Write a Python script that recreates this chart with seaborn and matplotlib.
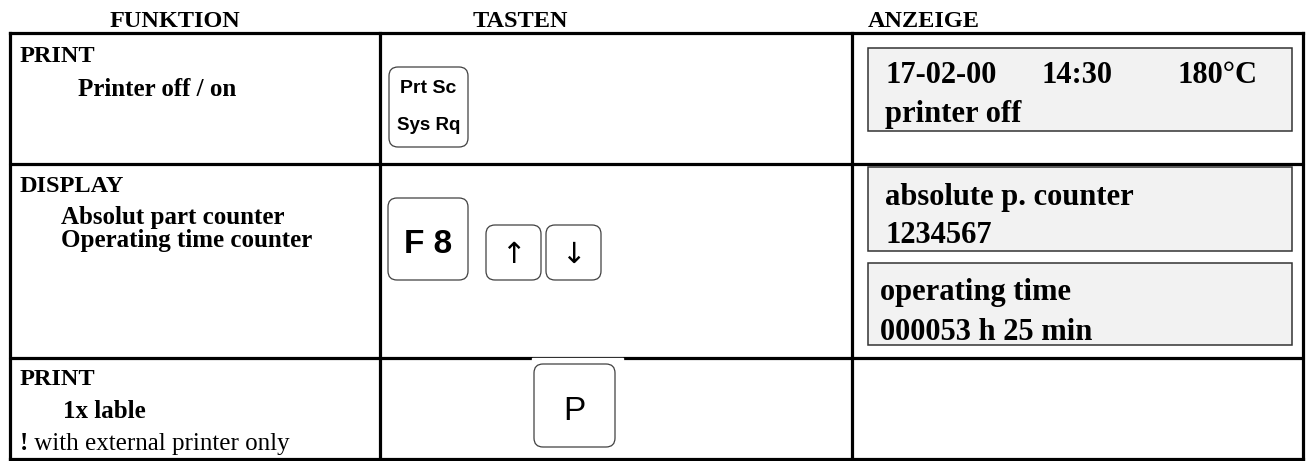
import matplotlib
matplotlib.use("Agg")
import matplotlib.pyplot as plt
import seaborn as sns
from matplotlib.patches import FancyBboxPatch, Rectangle

sns.set_theme(style="white")

# Inhalte der Tabelle
headers = ["FUNKTION", "TASTEN", "ANZEIGE"]
row_titles = ["PRINT", "DISPLAY", "PRINT"]
row_items = [["Printer off / on"],
             ["Absolut part counter", "Operating time counter"],
             ["1x lable"]]
note_mark = "!"
note_text = "with external printer only"
keys = [["Prt Sc", "Sys Rq"], ["F 8"], ["\u2191"], ["\u2193"], ["P"]]
displays = [["17-02-00", "printer off"],
            ["absolute p. counter", "1234567"],
            ["operating time", "000053 h 25 min"]]
display_extra = ["14:30", "180\u00b0C"]

# Geometrie in Pixeln
W, H = 1312, 461
col_x = [10, 380, 852, 1303]
row_y = [33, 164, 358, 459]
header_x = [175, 520, 868]
header_ha = ["center", "center", "left"]
title_y = [62, 192, 385]
item_x = [78, 61, 63]
item_y = [[96], [224, 247], [418]]
key_boxes = [(389, 67, 79, 80), (388, 198, 80, 82), (486, 225, 55, 55),
             (546, 225, 55, 55), (534, 364, 81, 83)]
disp_boxes = [(868, 48, 424, 83), (868, 167, 424, 84), (868, 263, 424, 82)]
disp_x = [885, 885, 880]
disp_y = [[83, 122], [205, 243], [300, 340]]
extra_x = [1042, 1178]

serif = "Liberation Serif"
sans = "Liberation Sans"

fig = plt.figure(figsize=(W / 100, H / 100), dpi=100)
ax = fig.add_axes([0, 0, 1, 1])
ax.set_xlim(0, W)
ax.set_ylim(H, 0)
ax.axis("off")

# Kopfzeile
for t, x, ha in zip(headers, header_x, header_ha):
    ax.text(x, 27, t, ha=ha, va="baseline", fontsize=17.5,
            family=serif, weight="bold", color="black")

# Tabellenrahmen
lw = 2.3
ax.plot([col_x[0], col_x[-1]], [row_y[0], row_y[0]], color="black", lw=lw, solid_capstyle="projecting")
ax.plot([col_x[0], col_x[-1]], [row_y[-1], row_y[-1]], color="black", lw=lw, solid_capstyle="projecting")
for y in row_y[1:-1]:
    ax.plot([col_x[0], col_x[-1]], [y, y], color="black", lw=lw)
for x in col_x:
    ax.plot([x, x], [row_y[0], row_y[-1]], color="black", lw=lw, solid_capstyle="projecting")

# linke Spalte
for i, title in enumerate(row_titles):
    ax.text(20, title_y[i], title, ha="left", va="baseline", fontsize=17.5,
            family=serif, weight="bold", color="black")
    for txt, y in zip(row_items[i], item_y[i]):
        ax.text(item_x[i], y, txt, ha="left", va="baseline", fontsize=18,
                family=serif, weight="bold", color="black")
ax.text(20, 450, note_mark, ha="left", va="baseline", fontsize=18,
        family=serif, weight="bold", color="black")
ax.text(28, 450, " " + note_text, ha="left", va="baseline", fontsize=18,
        family=serif, color="black")

# Tasten
ax.add_patch(Rectangle((532, 358.4), 91, 1.8, color="white", zorder=3))
for (x, y, w, h), lab in zip(key_boxes, keys):
    ax.add_patch(FancyBboxPatch((x, y), w, h, boxstyle="round,pad=0,rounding_size=9",
                                fc="white", ec="#404040", lw=0.9, zorder=4))
    cx = x + w / 2
    if len(lab) == 2:
        ax.text(cx, y + 26, lab[0], ha="center", va="baseline", fontsize=14,
                family=sans, weight="bold", color="black", zorder=5)
        ax.text(cx, y + 63, lab[1], ha="center", va="baseline", fontsize=13.5,
                family=sans, weight="bold", color="black", zorder=5)
    elif lab[0] == "F 8":
        ax.text(cx, y + 55, lab[0], ha="center", va="baseline", fontsize=24,
                family=sans, weight="bold", color="black", zorder=5)
    elif lab[0] == "P":
        ax.text(cx, y + 56, lab[0], ha="center", va="baseline", fontsize=24,
                family=sans, color="black", zorder=5)
    else:
        ax.text(cx, y + h / 2 + 2, lab[0], ha="center", va="center", fontsize=21,
                family="DejaVu Sans", color="black", zorder=5)

# Anzeigen
for (x, y, w, h), lines, tx, ys in zip(disp_boxes, displays, disp_x, disp_y):
    ax.add_patch(Rectangle((x, y), w, h, fc="#f2f2f2", ec="#333333", lw=1.1, zorder=2))
    for txt, yy in zip(lines, ys):
        ax.text(tx, yy, txt, ha="left", va="baseline", fontsize=22,
                family=serif, weight="bold", color="black", zorder=3)
for txt, x in zip(display_extra, extra_x):
    ax.text(x, disp_y[0][0], txt, ha="left", va="baseline", fontsize=22,
            family=serif, weight="bold", color="black", zorder=3)

fig.savefig("out.png", dpi=100)
